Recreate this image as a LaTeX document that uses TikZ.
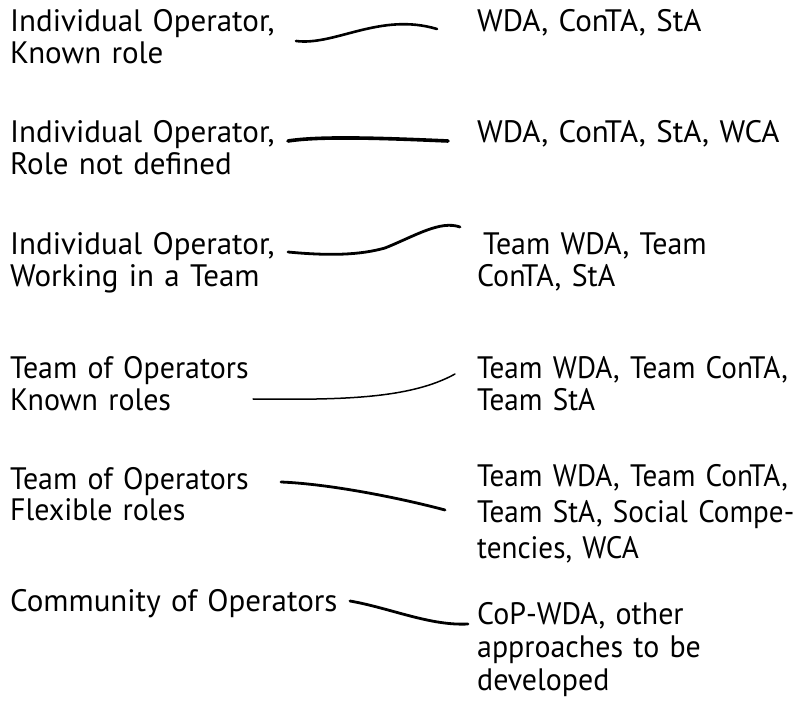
\documentclass[tikz,border=0pt]{standalone}
\usepackage{fontspec}
\setmainfont{PT Sans}
\newfontfamily\narrowA[FakeStretch=0.94]{PT Sans}
\newfontfamily\narrowB[FakeStretch=0.965]{PT Sans}
\begin{document}
\begin{tikzpicture}[x=1pt,y=-1pt,
  lbl/.style={anchor=base west,inner sep=0pt,align=left,text width=340pt,
    font=\fontsize{31}{32}\selectfont},
  sp36/.style={font=\narrowA\fontsize{31}{36}\selectfont},
  sp33/.style={font=\narrowB\fontsize{31}{33}\selectfont},
  nar/.style={font=\narrowA\fontsize{31}{32}\selectfont},
  narb/.style={font=\narrowB\fontsize{31}{32}\selectfont},
  link/.style={draw=black,line width=3pt,line cap=round}]
\useasboundingbox (0,0) rectangle (806,708);
% left labels
\node[lbl] (L1) at (10,32) {Individual Operator,\\Known role};
\node[lbl] (L2) at (10,143) {Individual Operator,\\Role not defined};
\node[lbl] (L3) at (10,255) {Individual Operator,\\Working in a Team};
\node[lbl,narb] (L4) at (10,379) {Team of Operators\\Known roles};
\node[lbl,narb] (L5) at (10,489) {Team of Operators\\Flexible roles};
\node[lbl] (L6) at (10,611) {Community of Operators};
% right labels
\node[lbl] (R1) at (477,32) {WDA, ConTA, StA};
\node[lbl] (R2) at (477,143) {WDA, ConTA, StA, WCA};
\node[lbl,narb] (R3) at (477,255) {\hspace*{6pt}Team WDA, Team\\ConTA, StA};
\node[lbl,nar] (R4) at (477,379) {Team WDA, Team ConTA,\\Team StA};
\node[lbl,sp36] (R5) at (477,486) {Team WDA, Team ConTA,\\Team StA, Social Compe-\\tencies, WCA};
\node[lbl,sp33] (R6) at (477,624) {CoP-WDA, other\\approaches to be\\developed};
% connector ends
\coordinate (a1) at (296,41);  \coordinate (b1) at (437,29);
\coordinate (a2) at (288,141); \coordinate (b2) at (448,141);
\coordinate (a3) at (288,252); \coordinate (m3) at (385,248); \coordinate (b3) at (460,227);
\coordinate (a4) at (253,399); \coordinate (b4) at (455,374);
\coordinate (a5) at (281,482); \coordinate (b5) at (445,510);
\coordinate (a6) at (350,601); \coordinate (b6) at (468,624);
% connectors
\draw[link,line width=2.6pt] (a1) .. controls (335,46) and (380,12) .. (b1);
\draw[link,line width=3.6pt] (a2) .. controls (320,136) and (380,138) .. (b2);
\draw[link,line width=2.8pt] (a3) .. controls (330,256) and (360,255) .. (m3)
  .. controls (415,236) and (440,220) .. (b3);
\draw[link,line width=1.5pt] (a4) .. controls (340,400) and (410,399) .. (b4);
\draw[link,line width=2.8pt] (a5) .. controls (330,484) and (400,498) .. (b5);
\draw[link,line width=2.8pt] (a6) .. controls (390,608) and (430,626) .. (b6);
\end{tikzpicture}
\end{document}
